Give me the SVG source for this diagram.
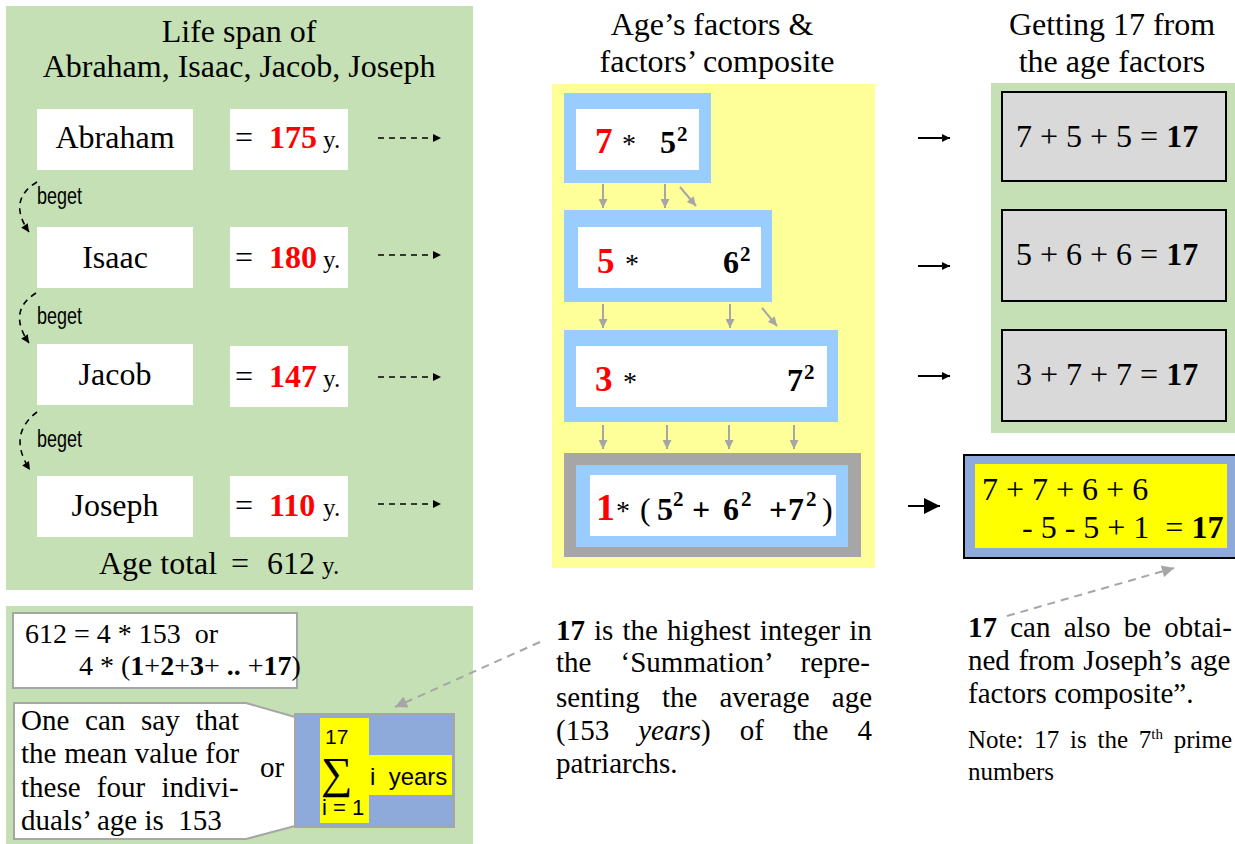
<svg xmlns="http://www.w3.org/2000/svg" width="1235" height="844" viewBox="0 0 1235 844">
<style>
text{font-family:"Liberation Serif","Times New Roman",serif;fill:#000}
.t32{font-size:32px}
.red{fill:#ff0000;font-weight:bold}
.b{font-weight:bold}
.ys{font-size:25px}
.sans{font-family:"Liberation Sans",Arial,sans-serif}
.green{fill:#c5e0b4}
.wbox{fill:#ffffff}
.blue{fill:#99ccff}
.gbox{fill:#d9d9d9;stroke:#000;stroke-width:2}
.dash{fill:none;stroke:#000;stroke-width:1.6;stroke-dasharray:6,5}
.garr{fill:none;stroke:#a6a6a6;stroke-width:2}
.gdash{fill:none;stroke:#a6a6a6;stroke-width:2;stroke-dasharray:8,6}
.solid{fill:none;stroke:#000;stroke-width:2}
</style>
<defs>
<marker id="ah" viewBox="0 0 10 10" refX="10" refY="5" markerWidth="9" markerHeight="8" markerUnits="userSpaceOnUse" orient="auto"><path d="M0,0L10,5L0,10z" fill="#000"/></marker>
<marker id="ahL" viewBox="0 0 10 10" refX="10" refY="5" markerWidth="16" markerHeight="16" markerUnits="userSpaceOnUse" orient="auto"><path d="M0,0L10,5L0,10z" fill="#000"/></marker>
<marker id="gh" viewBox="0 0 10 10" refX="10" refY="5" markerWidth="10" markerHeight="9" markerUnits="userSpaceOnUse" orient="auto"><path d="M0,0L10,5L0,10z" fill="#a6a6a6"/></marker>
<marker id="ghL" viewBox="0 0 10 10" refX="10" refY="5" markerWidth="14" markerHeight="12" markerUnits="userSpaceOnUse" orient="auto"><path d="M0,0L10,5L0,10z" fill="#a6a6a6"/></marker>
</defs>
<rect width="1235" height="844" fill="#fff"/>

<!-- Left panel -->
<g id="left-panel">
<rect class="green" x="6" y="6" width="467" height="584"/>
<text class="t32" x="239" y="42" text-anchor="middle">Life span of</text>
<text class="t32" x="239" y="77" text-anchor="middle">Abraham, Isaac, Jacob, Joseph</text>
</g>
<g id="abraham">
<rect class="wbox" x="37" y="109" width="156" height="61"/>
<text class="t32" x="115" y="148" text-anchor="middle">Abraham</text>
<rect class="wbox" x="230" y="109" width="118" height="61"/>
<text class="t32" x="235" y="148">=<tspan x="269" class="red">175</tspan><tspan x="323" class="ys">y.</tspan></text>
</g>
<g id="isaac">
<rect class="wbox" x="37" y="227" width="156" height="61"/>
<text class="t32" x="115" y="268" text-anchor="middle">Isaac</text>
<rect class="wbox" x="230" y="227" width="118" height="61"/>
<text class="t32" x="235" y="268">=<tspan x="269" class="red">180</tspan><tspan x="323" class="ys">y.</tspan></text>
</g>
<g id="jacob">
<rect class="wbox" x="37" y="344" width="156" height="61"/>
<text class="t32" x="115" y="385" text-anchor="middle">Jacob</text>
<rect class="wbox" x="230" y="346" width="118" height="61"/>
<text class="t32" x="235" y="387">=<tspan x="269" class="red">147</tspan><tspan x="323" class="ys">y.</tspan></text>
</g>
<g id="joseph">
<rect class="wbox" x="37" y="476" width="156" height="61"/>
<text class="t32" x="115" y="516" text-anchor="middle">Joseph</text>
<rect class="wbox" x="230" y="476" width="118" height="61"/>
<text class="t32" x="235" y="516">=<tspan x="269" class="red">110</tspan><tspan x="323" class="ys">y.</tspan></text>
</g>
<g id="age-total">
<text class="t32" x="99" y="574">Age total<tspan x="231">=</tspan><tspan x="267">612</tspan><tspan x="322" class="ys">y.</tspan></text>
</g>
<g id="beget-labels">
<text class="sans" x="37" y="204" font-size="23" textLength="45" lengthAdjust="spacingAndGlyphs">beget</text>
<text class="sans" x="37" y="324" font-size="23" textLength="45" lengthAdjust="spacingAndGlyphs">beget</text>
<text class="sans" x="37" y="447" font-size="23" textLength="45" lengthAdjust="spacingAndGlyphs">beget</text>
</g>

<!-- Bottom-left panel -->
<g id="bottom-left-panel">
<rect class="green" x="6" y="606" width="467" height="238"/>
</g>
<g id="eq-box">
<rect x="13" y="613" width="284" height="75" fill="#fff" stroke="#a6a6a6" stroke-width="2"/>
<text x="25" y="643" font-size="28" xml:space="preserve">612 = 4 * 153  or</text>
<text x="79" y="675" font-size="28">4 * (<tspan class="b">1</tspan>+<tspan class="b">2</tspan>+<tspan class="b">3</tspan>+ <tspan class="b">..</tspan> +<tspan class="b">17</tspan>)</text>
</g>
<g id="mean-callout">
<path d="M14,703H246L295,717V826L246,839H14Z" fill="#fff" stroke="#a6a6a6" stroke-width="2"/>
<text x="21" y="730" font-size="29" word-spacing="8.5">One can say that</text>
<text x="21" y="763" font-size="29" word-spacing="0.5">the mean value for</text>
<text x="21" y="797" font-size="29" word-spacing="9">these four indivi-</text>
<text x="21" y="830" font-size="29" xml:space="preserve">duals’ age is  153</text>
<text x="260" y="777" font-size="29">or</text>
</g>
<g id="sum-box">
<rect x="295" y="714" width="159" height="113" fill="#8eaadb" stroke="#a6a6a6" stroke-width="2"/>
<rect x="320" y="718" width="49" height="105" fill="#ffff00"/>
<rect x="369" y="755" width="83" height="40" fill="#ffff00"/>
<text class="sans" x="325" y="744" font-size="21">17</text>
<text x="321" y="788" font-size="44">∑</text>
<text class="sans" x="370" y="785" font-size="24" xml:space="preserve">i  years</text>
<text class="sans" x="322" y="815" font-size="22">i = 1</text>
</g>

<!-- Middle column -->
<g id="middle-title">
<text class="t32" x="712" y="35" text-anchor="middle">Age’s factors &amp;</text>
<text class="t32" x="717" y="72" text-anchor="middle">factors’ composite</text>
</g>
<g id="middle-panel">
<rect x="552" y="84" width="323" height="484" fill="#ffff99"/>
</g>
<g id="factor-7">
<rect class="blue" x="564" y="93" width="147" height="90"/>
<rect class="wbox" x="576" y="109" width="123" height="61"/>
<text class="red" x="595" y="153" font-size="35">7</text>
<text x="622" y="153" font-size="28">*</text>
<text class="b" x="660" y="153" font-size="32">5</text>
<text class="b" x="677" y="141" font-size="21">2</text>
</g>
<g id="factor-5">
<rect class="blue" x="564" y="210" width="208" height="92"/>
<rect class="wbox" x="578" y="227" width="183" height="61"/>
<text class="red" x="597" y="273" font-size="35">5</text>
<text x="625" y="273" font-size="28">*</text>
<text class="b" x="723" y="273" font-size="32">6</text>
<text class="b" x="740" y="261" font-size="21">2</text>
</g>
<g id="factor-3">
<rect class="blue" x="564" y="330" width="274" height="92"/>
<rect class="wbox" x="576" y="346" width="251" height="61"/>
<text class="red" x="595" y="391" font-size="35">3</text>
<text x="623" y="391" font-size="28">*</text>
<text class="b" x="787" y="391" font-size="32">7</text>
<text class="b" x="804" y="379" font-size="21">2</text>
</g>
<g id="factor-1">
<rect x="564" y="453" width="297" height="104" fill="#a6a6a6"/>
<rect class="blue" x="576" y="465" width="272" height="82"/>
<rect class="wbox" x="590" y="475" width="246" height="61"/>
<text class="red" x="596" y="520" font-size="38">1</text>
<text x="616" y="520" font-size="28">*</text>
<text x="640" y="520" font-size="32">(</text>
<text class="b" x="657" y="520" font-size="32">5</text>
<text class="b" x="673" y="506" font-size="21">2</text>
<text class="b" x="692" y="520" font-size="32">+</text>
<text class="b" x="723" y="520" font-size="32">6</text>
<text class="b" x="741" y="506" font-size="21">2</text>
<text class="b" x="769" y="520" font-size="32">+</text>
<text class="b" x="788" y="520" font-size="32">7</text>
<text class="b" x="806" y="506" font-size="21">2</text>
<text x="822" y="520" font-size="32">)</text>
</g>
<g id="middle-note">
<text x="556" y="640" font-size="29" word-spacing="1.8"><tspan class="b">17</tspan> is the highest integer in</text>
<text x="556" y="672" font-size="29" word-spacing="21.9">the ‘Summation’ repre-</text>
<text x="556" y="707" font-size="29" word-spacing="14.9">senting the average age</text>
<text x="556" y="740" font-size="29" word-spacing="21.8">(153 <tspan font-style="italic">years</tspan>) of the 4</text>
<text x="556" y="773" font-size="29">patriarchs.</text>
</g>

<!-- Right column -->
<g id="right-title">
<text class="t32" x="1112" y="35" text-anchor="middle">Getting 17 from</text>
<text class="t32" x="1112" y="72" text-anchor="middle">the age factors</text>
</g>
<g id="right-panel">
<rect class="green" x="991" y="83" width="244" height="350"/>
</g>
<g id="sum-7">
<rect class="gbox" x="1002" y="92" width="224" height="89"/>
<text x="1016" y="147" font-size="32">7 + 5 + 5 = <tspan class="b">17</tspan></text>
</g>
<g id="sum-5">
<rect class="gbox" x="1002" y="210" width="224" height="91"/>
<text x="1016" y="265" font-size="32">5 + 6 + 6 = <tspan class="b">17</tspan></text>
</g>
<g id="sum-3">
<rect class="gbox" x="1002" y="330" width="224" height="91"/>
<text x="1016" y="385" font-size="32">3 + 7 + 7 = <tspan class="b">17</tspan></text>
</g>
<g id="sum-joseph">
<rect x="964" y="455" width="272" height="103" fill="#8eaadb" stroke="#000" stroke-width="2"/>
<rect x="975" y="464" width="252" height="84" fill="#ffff00"/>
<text x="982" y="500" font-size="32">7 + 7 + 6 + 6</text>
<text x="1022" y="538" font-size="32" xml:space="preserve">- 5 - 5 + 1  = <tspan class="b">17</tspan></text>
</g>
<g id="right-note">
<text x="968" y="637" font-size="29" word-spacing="6"><tspan class="b">17</tspan> can also be obtai-</text>
<text x="968" y="670" font-size="29" word-spacing="1.3">ned from Joseph’s age</text>
<text x="968" y="703" font-size="29">factors composite”.</text>
<text x="968" y="748" font-size="25" word-spacing="4.5">Note: 17 is the 7<tspan font-size="15" dy="-9">th</tspan><tspan dy="9"> prime</tspan></text>
<text x="968" y="780" font-size="25">numbers</text>
</g>

<!-- Connectors -->
<g id="connectors">
<path class="dash" d="M37,182Q7,200 29,232" marker-end="url(#ah)"/>
<path class="dash" d="M36,293Q7,311 29,343" marker-end="url(#ah)"/>
<path class="dash" d="M37,412Q7,435 30,470" marker-end="url(#ah)"/>
<line class="dash" x1="378" y1="138" x2="441" y2="138" marker-end="url(#ah)"/>
<line class="dash" x1="378" y1="255" x2="441" y2="255" marker-end="url(#ah)"/>
<line class="dash" x1="378" y1="377" x2="441" y2="377" marker-end="url(#ah)"/>
<line class="dash" x1="378" y1="504" x2="441" y2="504" marker-end="url(#ah)"/>
<line class="garr" x1="603" y1="184" x2="603" y2="208" marker-end="url(#gh)"/>
<line class="garr" x1="665" y1="184" x2="665" y2="208" marker-end="url(#gh)"/>
<line class="garr" x1="680" y1="187" x2="696" y2="206" marker-end="url(#gh)"/>
<line class="garr" x1="603" y1="304" x2="603" y2="328" marker-end="url(#gh)"/>
<line class="garr" x1="730" y1="304" x2="730" y2="328" marker-end="url(#gh)"/>
<line class="garr" x1="762" y1="308" x2="777" y2="326" marker-end="url(#gh)"/>
<line class="garr" x1="603" y1="425" x2="603" y2="449" marker-end="url(#gh)"/>
<line class="garr" x1="667" y1="425" x2="667" y2="449" marker-end="url(#gh)"/>
<line class="garr" x1="729" y1="425" x2="729" y2="449" marker-end="url(#gh)"/>
<line class="garr" x1="794" y1="425" x2="794" y2="449" marker-end="url(#gh)"/>
<line class="solid" x1="918" y1="138" x2="950" y2="138" marker-end="url(#ah)"/>
<line class="solid" x1="918" y1="266" x2="950" y2="266" marker-end="url(#ah)"/>
<line class="solid" x1="918" y1="376" x2="950" y2="376" marker-end="url(#ah)"/>
<line class="solid" x1="908" y1="506" x2="940" y2="506" marker-end="url(#ahL)"/>
<line class="gdash" x1="540" y1="642" x2="395" y2="707" marker-end="url(#ghL)"/>
<line class="gdash" x1="1007" y1="616" x2="1174" y2="568" marker-end="url(#ghL)"/>
</g>
</svg>
